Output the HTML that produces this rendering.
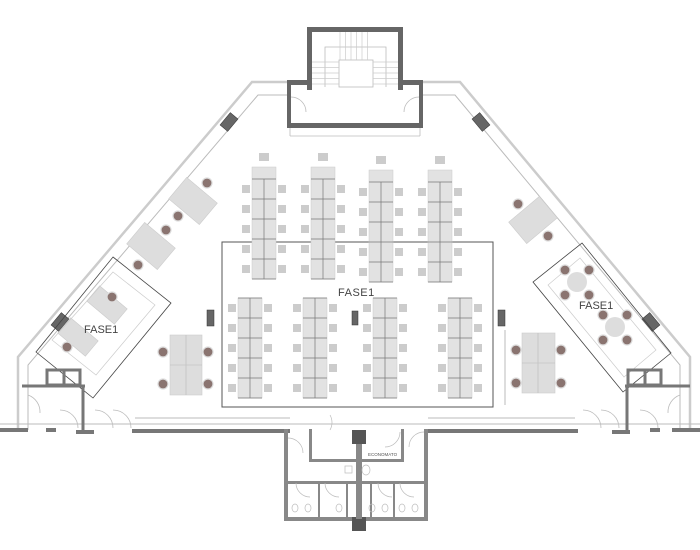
<!DOCTYPE html>
<html><head><meta charset="utf-8"><style>
html,body{margin:0;padding:0;background:#fff;width:700px;height:550px;overflow:hidden}
svg{display:block}
text{font-family:"Liberation Sans",sans-serif}
</style></head><body>
<svg width="700" height="550" viewBox="0 0 700 550" xmlns="http://www.w3.org/2000/svg">
<defs>
<g id="tc">
<rect x="-5" y="-14" width="10" height="8" fill="#ccc"/>
<rect x="-12" y="0" width="24" height="112" fill="#e2e2e2" stroke="#ccc" stroke-width="0.5"/>
<g stroke="#777" stroke-width="0.7">
<line x1="0" y1="12" x2="0" y2="112"/>
<line x1="-12" y1="12" x2="12" y2="12"/><line x1="-12" y1="32" x2="12" y2="32"/><line x1="-12" y1="52" x2="12" y2="52"/><line x1="-12" y1="72" x2="12" y2="72"/><line x1="-12" y1="92" x2="12" y2="92"/><line x1="-12" y1="112" x2="12" y2="112"/>
</g>
<g fill="#ccc">
<rect x="-22" y="18" width="8" height="8"/><rect x="14" y="18" width="8" height="8"/>
<rect x="-22" y="38" width="8" height="8"/><rect x="14" y="38" width="8" height="8"/>
<rect x="-22" y="58" width="8" height="8"/><rect x="14" y="58" width="8" height="8"/>
<rect x="-22" y="78" width="8" height="8"/><rect x="14" y="78" width="8" height="8"/>
<rect x="-22" y="98" width="8" height="8"/><rect x="14" y="98" width="8" height="8"/>
</g>
</g>
<g id="bc">
<rect x="-12" y="0" width="24" height="100" fill="#e2e2e2" stroke="#ccc" stroke-width="0.5"/>
<g stroke="#777" stroke-width="0.7">
<line x1="0" y1="0" x2="0" y2="100"/>
<line x1="-12" y1="0" x2="12" y2="0"/><line x1="-12" y1="20" x2="12" y2="20"/><line x1="-12" y1="40" x2="12" y2="40"/><line x1="-12" y1="60" x2="12" y2="60"/><line x1="-12" y1="80" x2="12" y2="80"/><line x1="-12" y1="100" x2="12" y2="100"/>
</g>
<g fill="#ccc">
<rect x="-22" y="6" width="8" height="8"/><rect x="14" y="6" width="8" height="8"/>
<rect x="-22" y="26" width="8" height="8"/><rect x="14" y="26" width="8" height="8"/>
<rect x="-22" y="46" width="8" height="8"/><rect x="14" y="46" width="8" height="8"/>
<rect x="-22" y="66" width="8" height="8"/><rect x="14" y="66" width="8" height="8"/>
<rect x="-22" y="86" width="8" height="8"/><rect x="14" y="86" width="8" height="8"/>
</g>
</g>
</defs>
<g fill="none" stroke="#bbb" stroke-width="1">
<polyline points="287,82 252,82 18,357 18,430" stroke-width="2.5" stroke="#ccc"/>
<polyline points="287,95 258,95 28,365 28,430"/>
<polyline points="423,82 460,82 690,357 690,430" stroke-width="2.5" stroke="#ccc"/>
<polyline points="423,95 455,95 680,365 680,430"/>
<line x1="0" y1="424" x2="700" y2="424"/>
<line x1="135" y1="418" x2="290" y2="418"/>
<line x1="428" y1="418" x2="575" y2="418"/>
</g>
<g fill="#777">
<rect x="0" y="428" width="28" height="4"/>
<rect x="132" y="429" width="158" height="4"/>
<rect x="428" y="429" width="150" height="4"/>
<rect x="672" y="428" width="28" height="4"/>
<rect x="46" y="428" width="10" height="4"/>
<rect x="76" y="430" width="18" height="4"/>
<rect x="612" y="430" width="18" height="4"/>
<rect x="650" y="428" width="10" height="4"/>
</g>
<g fill="#666">
<rect x="307" y="27" width="96" height="5"/>
<rect x="307" y="27" width="5" height="63"/>
<rect x="398" y="27" width="5" height="63"/>
<rect x="287" y="80" width="25" height="5"/>
<rect x="398" y="80" width="25" height="5"/>
<rect x="287" y="80" width="4" height="48"/>
<rect x="419" y="80" width="4" height="48"/>
<rect x="287" y="123" width="136" height="5"/>
</g>
<g fill="none" stroke="#bbb" stroke-width="0.8">
<rect x="339" y="60" width="34" height="27"/>
<polyline points="325,87 325,47 386,47 386,87"/>
<line x1="290" y1="136" x2="420" y2="136"/>
<line x1="290" y1="128" x2="290" y2="136"/><line x1="420" y1="128" x2="420" y2="136"/>
<path d="M291,97 A15,15 0 0 1 306,112"/><path d="M419,97 A15,15 0 0 0 404,112"/>
</g>
<g stroke="#ccc" stroke-width="0.7">
<line x1="340" y1="32" x2="340" y2="60"/><line x1="345.5" y1="32" x2="345.5" y2="60"/><line x1="351" y1="32" x2="351" y2="60"/><line x1="356.5" y1="32" x2="356.5" y2="60"/><line x1="362" y1="32" x2="362" y2="60"/><line x1="367.5" y1="32" x2="367.5" y2="60"/>
<line x1="312" y1="62" x2="339" y2="62"/><line x1="312" y1="67.5" x2="339" y2="67.5"/><line x1="312" y1="73" x2="339" y2="73"/><line x1="312" y1="78.5" x2="339" y2="78.5"/><line x1="312" y1="84" x2="339" y2="84"/>
<line x1="373" y1="62" x2="398" y2="62"/><line x1="373" y1="67.5" x2="398" y2="67.5"/><line x1="373" y1="73" x2="398" y2="73"/><line x1="373" y1="78.5" x2="398" y2="78.5"/><line x1="373" y1="84" x2="398" y2="84"/>
</g>
<rect x="222" y="242" width="271" height="165" fill="none" stroke="#555" stroke-width="1"/>
<line x1="505" y1="330" x2="505" y2="405" stroke="#bbb"/>
<use href="#tc" x="264" y="167"/><use href="#tc" x="323" y="167"/><use href="#tc" x="381" y="170"/><use href="#tc" x="440" y="170"/>
<use href="#bc" x="250" y="298"/><use href="#bc" x="315" y="298"/><use href="#bc" x="385" y="298"/><use href="#bc" x="460" y="298"/>
<text x="338" y="296" font-size="11" fill="#444" letter-spacing="0.5">FASE1</text>
<g fill="#666" stroke="#333" stroke-width="0.5">
<rect x="-5" y="-8" width="10" height="16" transform="translate(229,122) rotate(40)"/>
<rect x="-5" y="-8" width="10" height="16" transform="translate(481,122) rotate(-40)"/>
<rect x="-5" y="-8" width="10" height="16" transform="translate(60,322) rotate(40)"/>
<rect x="-5" y="-8" width="10" height="16" transform="translate(651,322) rotate(-40)"/>
<rect x="207" y="310" width="7" height="16"/>
<rect x="498" y="310" width="7" height="16"/>
<rect x="352" y="311" width="6" height="14"/>
</g>
<g fill="#ddd" stroke="#ccc" stroke-width="0.6">
<rect x="170" y="335" width="32" height="60"/>
<rect x="522" y="333" width="33" height="60"/>
<rect x="-20" y="-14" width="40" height="28" transform="translate(193,201) rotate(40)"/>
<rect x="-20" y="-14" width="40" height="28" transform="translate(151,246) rotate(40)"/>
<rect x="-20" y="-14" width="40" height="28" transform="translate(533,220) rotate(-40)"/>
<rect x="-18" y="-10" width="36" height="20" transform="translate(107,305) rotate(40)"/>
<rect x="-18" y="-10" width="36" height="20" transform="translate(78,337) rotate(40)"/>
</g>
<g stroke="#bbb" stroke-width="0.6"><line x1="186" y1="335" x2="186" y2="395"/><line x1="170" y1="365" x2="202" y2="365"/>
<line x1="538" y1="333" x2="538" y2="393"/><line x1="522" y1="363" x2="555" y2="363"/></g>
<polygon points="113,257 171,303 93,398 36,352" fill="none" stroke="#444" stroke-width="0.8"/>
<polygon points="582,243 671,353 623,392 533,282" fill="none" stroke="#444" stroke-width="0.8"/>
<polygon points="113,272 155,305 96,375 52,340" fill="none" stroke="#ccc" stroke-width="0.7"/>
<polygon points="580,258 656,350 624,377 548,285" fill="none" stroke="#ccc" stroke-width="0.7"/>
<text x="84" y="333" font-size="11" fill="#444">FASE1</text>
<text x="579" y="309" font-size="11" fill="#444">FASE1</text>
<circle cx="577" cy="282" r="10" fill="#ddd"/><circle cx="615" cy="327" r="10" fill="#ddd"/>
<g fill="#8a7470" stroke="#ddd" stroke-width="1.2">
<circle cx="163" cy="352" r="5"/><circle cx="208" cy="352" r="5"/><circle cx="163" cy="384" r="5"/><circle cx="208" cy="384" r="5"/>
<circle cx="516" cy="350" r="5"/><circle cx="561" cy="350" r="5"/><circle cx="516" cy="383" r="5"/><circle cx="561" cy="383" r="5"/>
<circle cx="207" cy="183" r="5"/><circle cx="178" cy="216" r="5"/><circle cx="166" cy="230" r="5"/><circle cx="138" cy="265" r="5"/>
<circle cx="518" cy="204" r="5"/><circle cx="548" cy="236" r="5"/><circle cx="112" cy="297" r="5"/><circle cx="67" cy="347" r="5"/>
<circle cx="565" cy="270" r="5"/><circle cx="589" cy="270" r="5"/><circle cx="565" cy="295" r="5"/><circle cx="589" cy="295" r="5"/>
<circle cx="603" cy="315" r="5"/><circle cx="627" cy="315" r="5"/><circle cx="603" cy="340" r="5"/><circle cx="627" cy="340" r="5"/>
</g>
<g fill="none" stroke="#777" stroke-width="3">
<rect x="47" y="370" width="33" height="15"/><line x1="64" y1="370" x2="64" y2="385"/>
<line x1="22" y1="386" x2="85" y2="386"/><line x1="83" y1="386" x2="83" y2="432"/>
<rect x="628" y="370" width="33" height="15"/><line x1="645" y1="370" x2="645" y2="385"/>
<line x1="625" y1="386" x2="690" y2="386"/><line x1="627" y1="386" x2="627" y2="432"/>
</g>
<g fill="none" stroke="#bbb" stroke-width="0.8">
<path d="M28,395 A18,18 0 0 1 40,413"/><path d="M60,410 A18,18 0 0 1 78,428"/>
<path d="M95,410 A18,18 0 0 1 113,428"/><path d="M113,410 A18,18 0 0 1 131,428"/>
<path d="M680,395 A18,18 0 0 0 668,413"/><path d="M640,410 A18,18 0 0 1 658,428"/>
<path d="M583,410 A18,18 0 0 1 601,428"/><path d="M601,410 A18,18 0 0 1 619,428"/>
</g>
<g fill="#888">
<rect x="284" y="429" width="4" height="92"/>
<rect x="424" y="429" width="4" height="92"/>
<rect x="284" y="517" width="144" height="4"/>
<rect x="309" y="429" width="3" height="32"/>
<rect x="309" y="459" width="95" height="3"/>
<rect x="401" y="429" width="3" height="32"/>
<rect x="287" y="481" width="138" height="3"/>
<rect x="352" y="430" width="14" height="14" fill="#555"/>
<rect x="352" y="517" width="14" height="14" fill="#555"/>
<rect x="356" y="444" width="6" height="75"/>
<rect x="318" y="481" width="2" height="36"/><rect x="346" y="481" width="2" height="36"/>
<rect x="370" y="481" width="2" height="36"/><rect x="393" y="481" width="2" height="36"/>
</g>
<g fill="none" stroke="#bbb" stroke-width="0.7">
<path d="M288,438 A15,15 0 0 1 303,453"/><path d="M330,415 A15,15 0 0 1 330,430"/>
<path d="M400,432 A15,15 0 0 1 385,447"/><path d="M424,432 A15,15 0 0 0 409,447"/>
<path d="M296,483 A14,14 0 0 0 310,497"/><path d="M325,483 A14,14 0 0 0 339,497"/>
<path d="M378,483 A14,14 0 0 0 392,497"/><path d="M400,483 A14,14 0 0 0 414,497"/>
<ellipse cx="295" cy="508" rx="3" ry="4"/><ellipse cx="308" cy="508" rx="3" ry="4"/>
<ellipse cx="339" cy="508" rx="3" ry="4"/><ellipse cx="372" cy="508" rx="3" ry="4"/>
<ellipse cx="385" cy="508" rx="3" ry="4"/><ellipse cx="402" cy="508" rx="3" ry="4"/><ellipse cx="415" cy="508" rx="3" ry="4"/>
<rect x="345" y="466" width="7" height="7"/><ellipse cx="366" cy="470" rx="4" ry="5"/>
</g>
<text x="368" y="456" font-size="4.5" fill="#555">ECONOMATO</text>
</svg>
</body></html>
